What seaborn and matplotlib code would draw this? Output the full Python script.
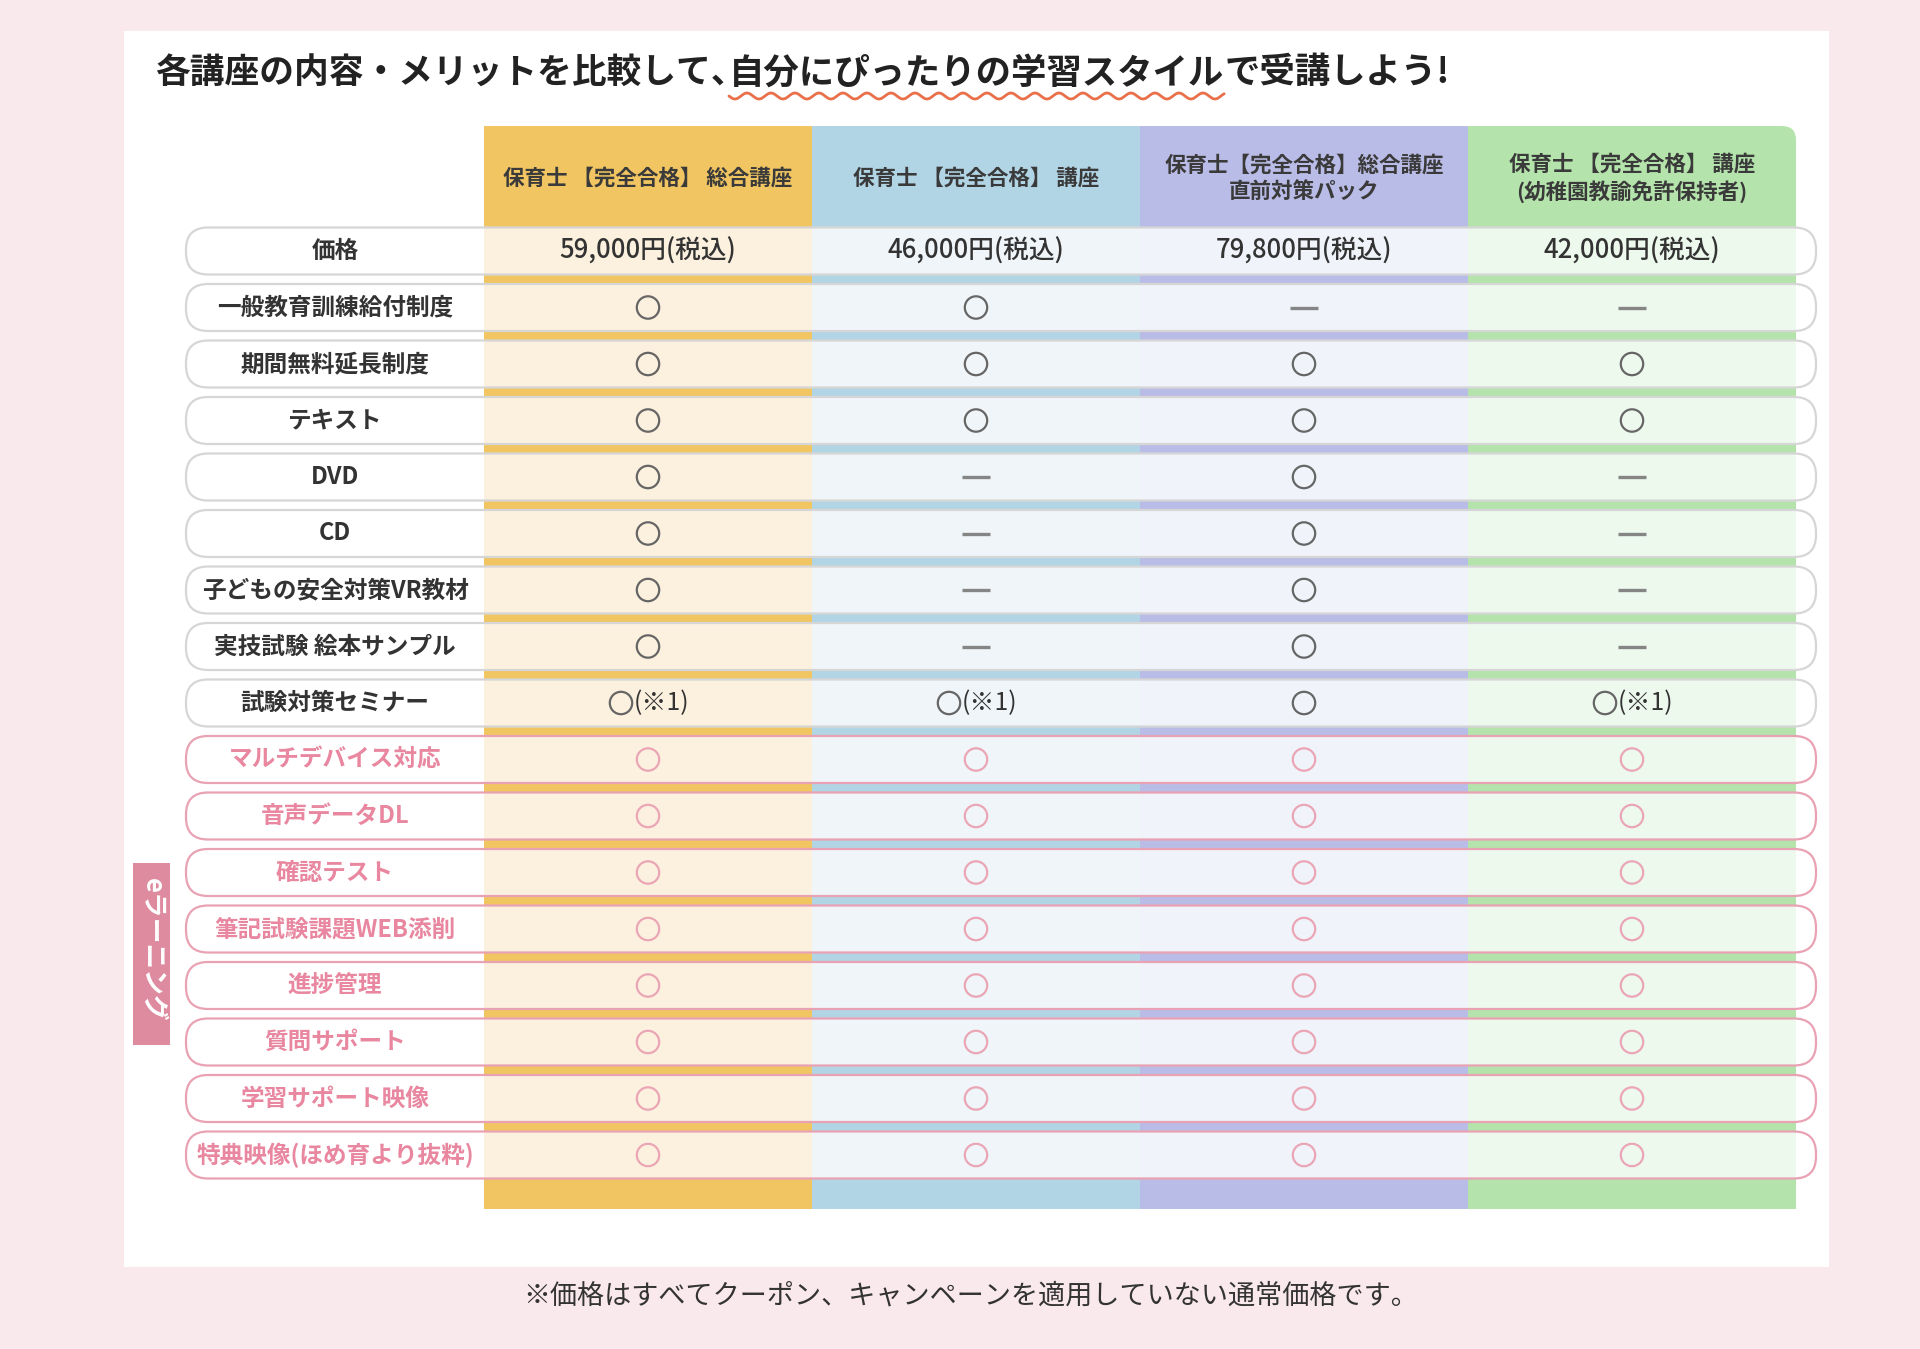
import numpy as np
import pandas as pd
import seaborn as sns
import matplotlib.pyplot as plt
from matplotlib.patches import Rectangle, FancyBboxPatch

# table content
features = ["価格", "一般教育訓練給付制度", "期間無料延長制度", "テキスト", "DVD", "CD",
            "子どもの安全対策VR教材", "実技試験 絵本サンプル", "試験対策セミナー",
            "マルチデバイス対応", "音声データDL", "確認テスト", "筆記試験課題WEB添削",
            "進捗管理", "質問サポート", "学習サポート映像", "特典映像(ほめ育より抜粋)"]
n_basic = 9  # rows above the e-learning block

courses = ["保育士 【完全合格】 総合講座", "保育士 【完全合格】 講座",
           "保育士【完全合格】総合講座\n直前対策パック", "保育士 【完全合格】 講座\n(幼稚園教諭免許保持者)"]
prices = ["59,000円(税込)", "46,000円(税込)", "79,800円(税込)", "42,000円(税込)"]

# marks for rows 2..17 ("○" = yes, "—" = no, "○(※1)" = yes with note)
marks_sogo = ["○", "○", "○", "○", "○", "○", "○", "○(※1)"] + ["○"] * 8
marks_kouza = ["○", "○", "○", "—", "—", "—", "—", "○(※1)"] + ["○"] * 8
marks_pack = ["—", "○", "○", "○", "○", "○", "○", "○"] + ["○"] * 8
marks_youchien = ["—", "○", "○", "—", "—", "—", "—", "○(※1)"] + ["○"] * 8
all_marks = [marks_sogo, marks_kouza, marks_pack, marks_youchien]

strong_cols = ["#F0C562", "#B2D5E6", "#B9BCE6", "#B4E4AB"]
light_cols = ["#FCF1DE", "#EFF5F9", "#F0F3FA", "#EEF9EE"]

sns.set_theme(style="white")
plt.rcParams['font.family'] = ['Noto Sans CJK JP', 'DejaVu Sans']

fig = plt.figure(figsize=(19.2, 13.49), dpi=100)
fig.patch.set_facecolor('#F9E8EC')
ax = fig.add_axes([0, 0, 1, 1])

# white panel
ax.add_patch(Rectangle((124, 31), 1705, 1236, fc='white', ec='none', zorder=0))

# layout
col_edges = np.array([484, 812, 1140, 1468, 1796])
col_mid = (col_edges[:-1] + col_edges[1:]) / 2
col_w = col_edges[1] - col_edges[0]
row_y = 251 + 56.5 * np.arange(len(features))
pill_h = 47
pill_x0, pill_x1 = 186, 1816
head_top, band_bottom = 126, 1209

# coloured column stripes
for j in range(3):
    ax.add_patch(Rectangle((col_edges[j], head_top), col_w, band_bottom - head_top,
                           fc=strong_cols[j], ec='none', zorder=1))
ax.add_patch(FancyBboxPatch((col_edges[3], head_top), col_w, band_bottom - head_top,
                            boxstyle="round,pad=0,rounding_size=14",
                            fc=strong_cols[3], ec='none', zorder=1))
ax.add_patch(Rectangle((col_edges[3], head_top), 20, 20, fc=strong_cols[3], ec='none', zorder=1))
ax.add_patch(Rectangle((col_edges[3], band_bottom - 20), col_w, 20, fc=strong_cols[3], ec='none', zorder=1))

# header text
for j, name in enumerate(courses):
    ax.text(col_mid[j], 178, name, ha='center', va='center', fontsize=15.5,
            fontweight='bold', color='#3a3a3a', linespacing=1.3, zorder=6)

# row pills
for i, y in enumerate(row_y):
    elearn = i >= n_basic
    border = '#E9A2B3' if elearn else '#D6D6D6'
    ax.add_patch(FancyBboxPatch((pill_x0, y - pill_h / 2), pill_x1 - pill_x0, pill_h,
                                boxstyle="round,pad=0,rounding_size=22",
                                fc='white', ec='none', zorder=2))
    for j in range(4):
        ax.add_patch(Rectangle((col_edges[j], y - pill_h / 2), col_w, pill_h,
                               fc=light_cols[j], ec='none', zorder=3))
    ax.add_patch(FancyBboxPatch((pill_x0, y - pill_h / 2), pill_x1 - pill_x0, pill_h,
                                boxstyle="round,pad=0,rounding_size=22",
                                fc='none', ec=border, lw=1.6, zorder=4))
    ax.text(335, y, features[i], ha='center', va='center', fontsize=17,
            fontweight='bold', color='#E8879F' if elearn else '#333333', zorder=6)

# prices
for j, p in enumerate(prices):
    ax.text(col_mid[j], row_y[0], p, ha='center', va='center', fontsize=18.5,
            fontweight='medium', color='#333333', zorder=6)

# marks table
recs = []
for j, marks in enumerate(all_marks):
    for k, m in enumerate(marks):
        i = k + 1
        recs.append({"col": j, "row": i, "mark": m,
                     "group": "elearn" if i >= n_basic else "basic"})
df = pd.DataFrame(recs)
df["y"] = row_y[df["row"]]
df["x"] = col_mid[df["col"]] - np.where(df["mark"] == "○(※1)", 27, 0)

circ = df[df["mark"].str.startswith("○")]
for grp, c in [("basic", "#666666"), ("elearn", "#EBA6B6")]:
    sub = circ[circ["group"] == grp]
    sns.scatterplot(data=sub, x="x", y="y", marker='o', s=260, color=c,
                    facecolor='none', edgecolor=c, linewidth=1.6, ax=ax,
                    legend=False, zorder=7)

dash = df[df["mark"] == "—"]
sns.scatterplot(data=dash, x="x", y="y", marker='_', s=380, color='#858585',
                linewidth=2.4, ax=ax, legend=False, zorder=7)

for _, r in df[df["mark"] == "○(※1)"].iterrows():
    ax.text(r["x"] + 13, r["y"], "(※1)", ha='left', va='center', fontsize=18,
            color='#333333', zorder=7)

ax.set_xlim(0, 1920)
ax.set_ylim(1349, 0)
ax.axis('off')

# e-learning tag
ax.add_patch(Rectangle((133, 863), 37, 182, fc='#DE8BA0', ec='none', zorder=2))
ax.text(152, 950, "eラーニング", rotation=-90, ha='center', va='center',
        fontsize=18.5, fontweight='bold', color='white', zorder=6)

# title in three pieces, middle one underlined with a wave
t1 = ax.text(155, 73, "各講座の内容・メリットを比較して、", ha='left', va='center',
             fontsize=25, fontweight='bold', color='#222222', zorder=6)
t2 = ax.annotate("自分にぴったりの学習スタイル", xy=(1, 0), xycoords=t1, va='bottom',
                 xytext=(-12, 0), textcoords='offset points',
                 fontsize=25.5, fontweight='bold', color='#222222', zorder=6)
t3 = ax.annotate("で受講しよう!", xy=(1, 0), xycoords=t2, va='bottom',
                 fontsize=25.5, fontweight='bold', color='#222222', zorder=6)
fig.canvas.draw()
bb = t2.get_window_extent(fig.canvas.get_renderer())
(wx0, _), (wx1, _) = ax.transData.inverted().transform([[bb.x0, bb.y0], [bb.x1, bb.y0]])
wx = np.linspace(wx0, wx1, 400)
ax.plot(wx, 96 + 3 * np.sin((wx - wx0) / 24 * 2 * np.pi), color='#E8704A', lw=2, zorder=6)

# footnote
ax.text(971, 1296, "※価格はすべてクーポン、キャンペーンを適用していない通常価格です。",
        ha='center', va='center', fontsize=19.5, color='#333333')

fig.savefig("out.png", dpi=100, facecolor=fig.get_facecolor())
